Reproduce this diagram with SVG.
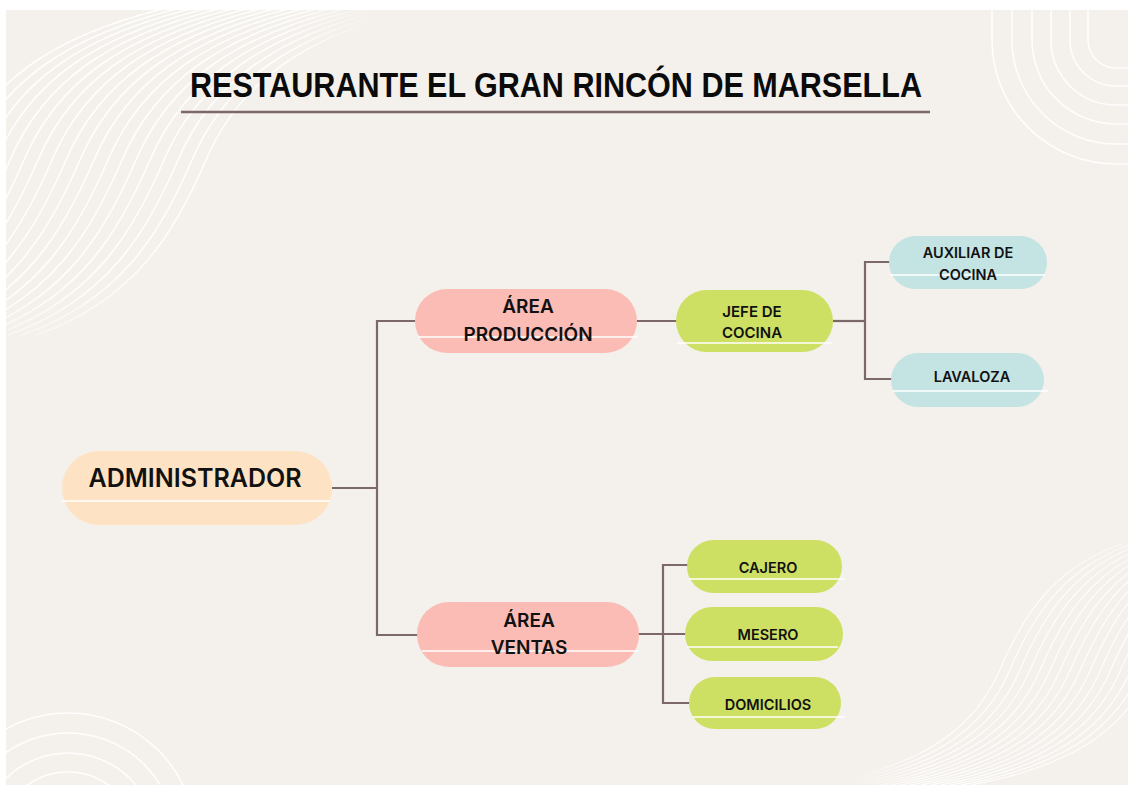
<svg xmlns="http://www.w3.org/2000/svg" width="1128" height="785" viewBox="0 0 1128 785">
  <defs>
    <style>
      .bgline { fill: none; stroke: #ffffff; stroke-width: 1.6; stroke-opacity: 0.9; }
      .conn { fill: none; stroke: #7d6868; stroke-width: 2.2; }
      .shine { stroke: #ffffff; stroke-width: 1.6; }
      .peach { fill: #fde3c4; }
      .pink { fill: #fbbcb5; }
      .green { fill: #cde063; }
      .blue { fill: #c4e4e3; }
      .lbl { font-family: Inter, "Open Sans", "Liberation Sans", sans-serif; font-weight: 600; fill: #111111; text-anchor: middle; }
      .title { font-family: "Liberation Sans", Arial, sans-serif; font-weight: 700; font-size: 35px; fill: #0b0b0b; }
    </style>
    <clipPath id="bgclip">
      <rect x="6" y="10" width="1122" height="775"/>
    </clipPath>
    <radialGradient id="fadeTL" cx="0" cy="0" r="400" gradientUnits="userSpaceOnUse">
      <stop offset="0" stop-color="#fff"/>
      <stop offset="0.72" stop-color="#fff"/>
      <stop offset="0.95" stop-color="#000"/>
    </radialGradient>
    <radialGradient id="fadeBR" cx="1128" cy="785" r="300" gradientUnits="userSpaceOnUse">
      <stop offset="0" stop-color="#fff"/>
      <stop offset="0.7" stop-color="#fff"/>
      <stop offset="0.95" stop-color="#000"/>
    </radialGradient>
    <mask id="maskTL" maskUnits="userSpaceOnUse" x="0" y="0" width="1128" height="785">
      <rect x="0" y="0" width="1128" height="785" fill="url(#fadeTL)"/>
    </mask>
    <mask id="maskBR" maskUnits="userSpaceOnUse" x="0" y="0" width="1128" height="785">
      <rect x="0" y="0" width="1128" height="785" fill="url(#fadeBR)"/>
    </mask>
    <path id="wave" d="M -90,335 C 10,300 50,230 80,160 C 110,90 170,30 330,0"/>
  </defs>

  <rect x="0" y="0" width="1128" height="785" fill="#ffffff"/>
  <rect x="6" y="10" width="1122" height="775" fill="#f4f0eb"/>

  <g id="decor" clip-path="url(#bgclip)">
    <g mask="url(#maskTL)">
      <use href="#wave" class="bgline" transform="translate(-126,0)"/>
      <use href="#wave" class="bgline" transform="translate(-112,0)"/>
      <use href="#wave" class="bgline" transform="translate(-98,0)"/>
      <use href="#wave" class="bgline" transform="translate(-84,0)"/>
      <use href="#wave" class="bgline" transform="translate(-70,0)"/>
      <use href="#wave" class="bgline" transform="translate(-56,0)"/>
      <use href="#wave" class="bgline" transform="translate(-42,0)"/>
      <use href="#wave" class="bgline" transform="translate(-28,0)"/>
      <use href="#wave" class="bgline" transform="translate(-14,0)"/>
      <use href="#wave" class="bgline"/>
      <use href="#wave" class="bgline" transform="translate(14,0)"/>
      <use href="#wave" class="bgline" transform="translate(28,0)"/>
      <use href="#wave" class="bgline" transform="translate(42,0)"/>
      <use href="#wave" class="bgline" transform="translate(56,0)"/>
      <use href="#wave" class="bgline" transform="translate(70,0)"/>
      <use href="#wave" class="bgline" transform="translate(84,0)"/>
      <use href="#wave" class="bgline" transform="translate(98,0)"/>
      <use href="#wave" class="bgline" transform="translate(112,0)"/>
      <use href="#wave" class="bgline" transform="translate(126,0)"/>
    </g>
    <g mask="url(#maskBR)">
      <g transform="translate(1128,785) scale(0.72) translate(-1128,-785)">
        <g transform="rotate(180 564 392.5)">
          <use href="#wave" class="bgline" transform="translate(-112,0)"/>
          <use href="#wave" class="bgline" transform="translate(-98,0)"/>
          <use href="#wave" class="bgline" transform="translate(-84,0)"/>
          <use href="#wave" class="bgline" transform="translate(-70,0)"/>
          <use href="#wave" class="bgline" transform="translate(-56,0)"/>
          <use href="#wave" class="bgline" transform="translate(-42,0)"/>
          <use href="#wave" class="bgline" transform="translate(-28,0)"/>
          <use href="#wave" class="bgline" transform="translate(-14,0)"/>
          <use href="#wave" class="bgline"/>
          <use href="#wave" class="bgline" transform="translate(14,0)"/>
          <use href="#wave" class="bgline" transform="translate(28,0)"/>
          <use href="#wave" class="bgline" transform="translate(42,0)"/>
          <use href="#wave" class="bgline" transform="translate(56,0)"/>
          <use href="#wave" class="bgline" transform="translate(70,0)"/>
          <use href="#wave" class="bgline" transform="translate(84,0)"/>
          <use href="#wave" class="bgline" transform="translate(98,0)"/>
        </g>
      </g>
    </g>
    <g id="arcsTR">
      <path class="bgline" d="M 992,10 V 40 A 124 124 0 0 0 1116,164 H 1128"/>
      <path class="bgline" d="M 1012,10 V 40 A 104 104 0 0 0 1116,144 H 1128"/>
      <path class="bgline" d="M 1032,10 V 40 A 84 84 0 0 0 1116,124 H 1128"/>
      <path class="bgline" d="M 1051,10 V 40 A 65 65 0 0 0 1116,105 H 1128"/>
      <path class="bgline" d="M 1070,10 V 40 A 46 46 0 0 0 1116,86 H 1128"/>
      <path class="bgline" d="M 1088,10 V 40 A 28 28 0 0 0 1116,68 H 1128"/>
    </g>
    <g id="arcsBL">
      <circle class="bgline" cx="68" cy="841" r="128"/>
      <circle class="bgline" cx="68" cy="841" r="108"/>
      <circle class="bgline" cx="68" cy="841" r="88"/>
      <circle class="bgline" cx="68" cy="841" r="69"/>
    </g>
  </g>

  <g id="title">
    <text class="title" x="190" y="97" textLength="732" lengthAdjust="spacingAndGlyphs">RESTAURANTE EL GRAN RINCÓN DE MARSELLA</text>
    <line x1="181" y1="112" x2="930" y2="112" stroke="#7d6868" stroke-width="2.5"/>
  </g>

  <g id="connectors">
    <path class="conn" d="M 332,488 H 377"/>
    <path class="conn" d="M 415,321 H 377 V 635 H 418"/>
    <path class="conn" d="M 637,321 H 677"/>
    <path class="conn" d="M 833,321 H 865"/>
    <path class="conn" d="M 890,262 H 865 V 379 H 892"/>
    <path class="conn" d="M 639,634 H 686"/>
    <path class="conn" d="M 688,565 H 663 V 703 H 690"/>
  </g>

  <g id="administrador">
    <rect class="peach" x="62" y="451" width="270" height="74" rx="37"/>
    <line class="shine" x1="62" y1="501" x2="330" y2="501"/>
    <text class="lbl" x="195" y="487" font-size="25">ADMINISTRADOR</text>
  </g>

  <g id="area-produccion">
    <rect class="pink" x="415" y="289" width="222" height="64" rx="32"/>
    <line class="shine" x1="418" y1="337" x2="637" y2="337"/>
    <text class="lbl" x="528" y="313" font-size="19">ÁREA</text>
    <text class="lbl" x="528" y="341" font-size="19">PRODUCCIÓN</text>
  </g>

  <g id="area-ventas">
    <rect class="pink" x="417" y="602" width="222" height="65" rx="32"/>
    <line class="shine" x1="422" y1="651" x2="639" y2="651"/>
    <text class="lbl" x="529" y="627" font-size="19">ÁREA</text>
    <text class="lbl" x="529" y="654" font-size="19">VENTAS</text>
  </g>

  <g id="jefe-de-cocina">
    <rect class="green" x="676" y="290" width="157" height="62" rx="31"/>
    <line class="shine" x1="677" y1="343" x2="832" y2="343"/>
    <text class="lbl" x="752" y="317" font-size="15">JEFE DE</text>
    <text class="lbl" x="752" y="338" font-size="15">COCINA</text>
  </g>

  <g id="auxiliar-de-cocina">
    <rect class="blue" x="889" y="236" width="158" height="53" rx="26.5"/>
    <line class="shine" x1="890" y1="275" x2="1045" y2="275"/>
    <text class="lbl" x="968" y="258" font-size="14.5">AUXILIAR DE</text>
    <text class="lbl" x="968" y="280" font-size="14.5">COCINA</text>
  </g>

  <g id="lavaloza">
    <rect class="blue" x="891" y="353" width="153" height="54" rx="27"/>
    <line class="shine" x1="893" y1="391" x2="1048" y2="391"/>
    <text class="lbl" x="972" y="382" font-size="14.5">LAVALOZA</text>
  </g>

  <g id="cajero">
    <rect class="green" x="687" y="540" width="155" height="53" rx="26.5"/>
    <line class="shine" x1="689" y1="579" x2="845" y2="579"/>
    <text class="lbl" x="768" y="573" font-size="14.5">CAJERO</text>
  </g>

  <g id="mesero">
    <rect class="green" x="685" y="607" width="158" height="54" rx="27"/>
    <line class="shine" x1="687" y1="647" x2="838" y2="647"/>
    <text class="lbl" x="768" y="640" font-size="14.5">MESERO</text>
  </g>

  <g id="domicilios">
    <rect class="green" x="689" y="677" width="152" height="52" rx="26"/>
    <line class="shine" x1="693" y1="717" x2="845" y2="717"/>
    <text class="lbl" x="768" y="710" font-size="14.5">DOMICILIOS</text>
  </g>
</svg>
